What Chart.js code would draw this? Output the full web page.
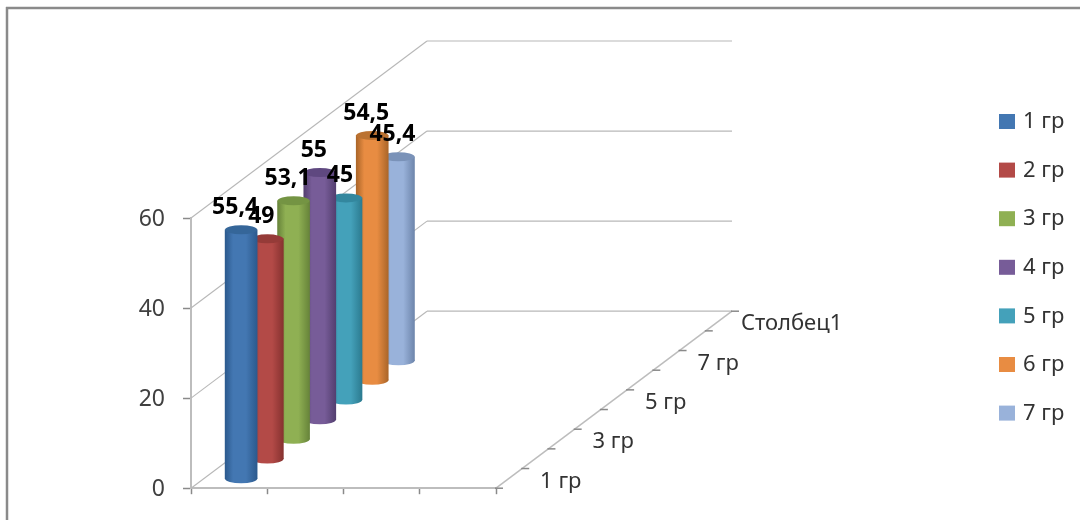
<!DOCTYPE html>
<html>
<head>
<meta charset="utf-8">
<style>
  html, body { margin: 0; padding: 0; background: #fff; }
  canvas { display: block; }
</style>
<script src="https://cdn.jsdelivr.net/npm/chart.js@4"></script>
</head>
<body>
<canvas id="chart" width="1080" height="520"></canvas>
<script>
var categories = ["", "", "", ""];
var seriesNames = ["1 гр", "2 гр", "3 гр", "4 гр", "5 гр", "6 гр", "7 гр"];
var seriesValues = [55.4, 49, 53.1, 55, 45, 54.5, 45.4];
var seriesColors = ["#4377b2", "#b34a47", "#8fb053", "#775c98", "#44a1ba", "#e88c42", "#99b2da"];
var seriesEdges = ["#2c5a8e", "#873230", "#67843a", "#543f70", "#2c7b90", "#ab6629", "#6e86ac"];
var seriesLids = ["#356699", "#953b38", "#749443", "#5f4880", "#33879e", "#bb7231", "#7a92b8"];
var depthLabels = ["1 гр", "", "3 гр", "", "5 гр", "", "7 гр", "", "Столбец1"];

var FONT = "'Noto Sans', sans-serif";
var DEPTH_X = 236, DEPTH_Y = -177, DEPTH_SLOTS = 9;
var stepX = DEPTH_X / DEPTH_SLOTS, stepY = DEPTH_Y / DEPTH_SLOTS;
var FRONT_X = 12, FRONT_Y = -9;   // first cylinder sits a little inside the floor

function line(ctx, x1, y1, x2, y2, color, width) {
  ctx.strokeStyle = color;
  ctx.lineWidth = width;
  ctx.beginPath();
  ctx.moveTo(x1, y1);
  ctx.lineTo(x2, y2);
  ctx.stroke();
}

function barGradient(ctx) {
  var chart = ctx.chart;
  var i = ctx.datasetIndex;
  var cx = chart.scales.x ? chart.scales.x.getPixelForValue(0) : NaN;
  if (!isFinite(cx)) return seriesColors[i];   // scales not laid out yet
  var g = chart.ctx.createLinearGradient(cx - 16, 0, cx + 16, 0);
  g.addColorStop(0, seriesEdges[i]);
  g.addColorStop(0.25, seriesColors[i]);
  g.addColorStop(0.65, seriesColors[i]);
  g.addColorStop(1, seriesEdges[i]);
  return g;
}

var scene3d = {
  id: "scene3d",
  beforeDraw: function (chart) {
    var ctx = chart.ctx;
    ctx.save();
    line(ctx, 6, 8, 1080, 8, "#8a8a8a", 2.5);
    line(ctx, 7, 7, 7, 520, "#8a8a8a", 2.5);
    ctx.restore();
  },
  beforeDatasetsDraw: function (chart) {
    var ctx = chart.ctx, x = chart.scales.x, y = chart.scales.y;
    ctx.save();
    // walls
    y.ticks.forEach(function (t) {
      var py = y.getPixelForValue(t.value);
      line(ctx, x.left, py, x.left + DEPTH_X, py + DEPTH_Y, "#b8b8b8", 1.2);
      line(ctx, x.left + DEPTH_X, py + DEPTH_Y, x.right + DEPTH_X, py + DEPTH_Y, "#b8b8b8", 1.2);
    });
    // depth axis
    line(ctx, x.right, y.bottom, x.right + DEPTH_X, y.bottom + DEPTH_Y, "#bdbdbd", 1.5);
    for (var i = 0; i <= DEPTH_SLOTS; i++) {
      var tx = x.right + stepX * i, ty = y.bottom + stepY * i;
      line(ctx, tx - 1, ty, tx + 7, ty, "#8a8a8a", 1.5);
    }
    ctx.font = "22px " + FONT;
    ctx.fillStyle = "#333";
    ctx.textAlign = "left";
    ctx.textBaseline = "middle";
    depthLabels.forEach(function (label, i) {
      var lx = x.right + stepX * (i + 0.5) + (i === depthLabels.length - 1 ? 22 : 31);
      var ly = y.bottom + stepY * (i + 0.5) + 3;
      ctx.fillText(label, lx, ly);
    });
    // legend
    seriesNames.forEach(function (name, i) {
      var ly = 122 + 48.6 * i;
      ctx.fillStyle = seriesColors[i];
      ctx.fillRect(999, ly - 8, 16, 15);
      ctx.fillStyle = "#333";
      ctx.fillText(name, 1023, ly);
    });
    ctx.restore();
  },
  beforeDatasetDraw: function (chart, args) {
    var ctx = chart.ctx;
    ctx.save();
    ctx.translate(FRONT_X + stepX * args.index, FRONT_Y + stepY * args.index);
  },
  afterDatasetDraw: function (chart, args) {
    var ctx = chart.ctx;
    var bar = args.meta.data[0];
    var half = bar.width / 2;
    // rounded foot (overlaps the bar by a pixel so no seam shows), then the lid
    ctx.fillStyle = bar.options.backgroundColor;
    ctx.beginPath();
    ctx.rect(bar.x - half, bar.base - 1, half * 2, 1.5);
    ctx.ellipse(bar.x, bar.base, half, 4.5, 0, 0, Math.PI);
    ctx.fill();
    ctx.fillStyle = seriesLids[args.index];
    ctx.beginPath();
    ctx.ellipse(bar.x, bar.y, half, 4.5, 0, 0, Math.PI * 2);
    ctx.fill();
    ctx.restore();
  },
  afterDatasetsDraw: function (chart) {
    var ctx = chart.ctx;
    ctx.save();
    ctx.font = "bold 23px " + FONT;
    ctx.fillStyle = "#000";
    ctx.textAlign = "center";
    ctx.textBaseline = "middle";
    seriesValues.forEach(function (v, i) {
      var bar = chart.getDatasetMeta(i).data[0];
      var lx = bar.x + FRONT_X + stepX * i - 6;
      var ly = bar.y + FRONT_Y + stepY * i - 22;
      ctx.fillText(String(v).replace(".", ","), lx, ly);
    });
    ctx.restore();
  },
};

new Chart(document.getElementById("chart"), {
  type: "bar",
  data: {
    labels: categories,
    datasets: seriesNames.map(function (name, i) {
      return {
        label: name,
        data: [seriesValues[i]],
        backgroundColor: barGradient,
        barThickness: 32,
        grouped: false,
        borderWidth: 0,
      };
    }),
  },
  options: {
    responsive: false,
    animation: false,
    layout: { padding: { left: 10, top: 218, right: 584, bottom: 25 } },
    plugins: { legend: { display: false }, tooltip: { enabled: false } },
    scales: {
      x: {
        grid: { offset: true, drawOnChartArea: false, tickLength: 6, tickColor: "#8a8a8a", tickWidth: 1.5 },
        border: { color: "#bdbdbd", width: 2 },
        ticks: { display: false },
      },
      y: {
        min: 0,
        max: 60,
        afterFit: function (axis) { axis.width = 181; },
        grid: { drawOnChartArea: false, tickLength: 8, tickColor: "#8a8a8a", tickWidth: 1.5 },
        border: { color: "#bdbdbd", width: 2 },
        ticks: { stepSize: 20, padding: 18, labelOffset: 1.5, color: "#404040", font: { family: FONT, size: 23 } },
      },
    },
  },
  plugins: [scene3d],
});
</script>
</body>
</html>
